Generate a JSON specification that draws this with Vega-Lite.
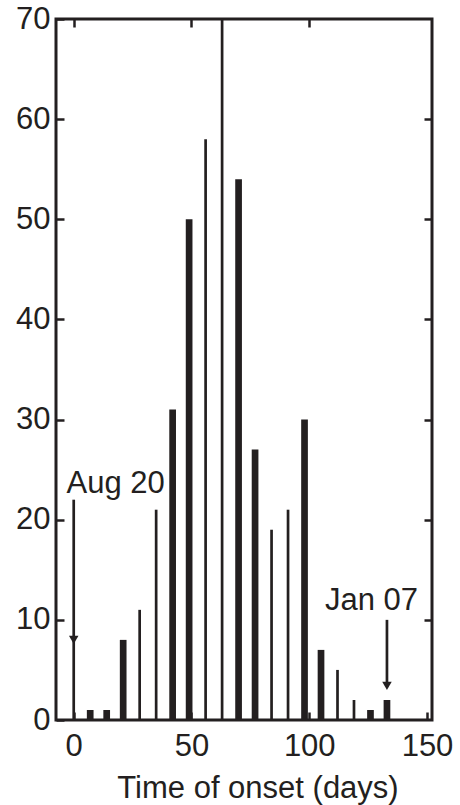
{
  "$schema": "https://vega.github.io/schema/vega-lite/v6.json",
  "width": 376,
  "height": 701,
  "autosize": "none",
  "padding": {"left": 56, "top": 19, "right": 28, "bottom": 85},
  "background": "white",
  "config": {
    "view": {"stroke": "#231f20", "strokeWidth": 3},
    "font": "Liberation Sans",
    "axis": {
      "grid": false,
      "domain": false,
      "tickColor": "#231f20",
      "tickWidth": 2.5,
      "labelColor": "#231f20",
      "labelFont": "Liberation Sans",
      "labelFontSize": 31,
      "titleFont": "Liberation Sans",
      "titleFontSize": 31,
      "titleFontWeight": "normal",
      "titleColor": "#231f20"
    }
  },
  "datasets": {
    "onsets": [
      {"day": 7, "cases": 1, "group": "wide"},
      {"day": 14, "cases": 1, "group": "wide"},
      {"day": 21, "cases": 8, "group": "wide"},
      {"day": 28, "cases": 11, "group": "narrow"},
      {"day": 35, "cases": 21, "group": "narrow"},
      {"day": 42, "cases": 31, "group": "wide"},
      {"day": 49, "cases": 50, "group": "wide"},
      {"day": 56, "cases": 58, "group": "narrow"},
      {"day": 63, "cases": 70, "group": "narrow"},
      {"day": 70, "cases": 54, "group": "wide"},
      {"day": 77, "cases": 27, "group": "wide"},
      {"day": 84, "cases": 19, "group": "narrow"},
      {"day": 91, "cases": 21, "group": "narrow"},
      {"day": 98, "cases": 30, "group": "wide"},
      {"day": 105, "cases": 7, "group": "wide"},
      {"day": 112, "cases": 5, "group": "narrow"},
      {"day": 119, "cases": 2, "group": "narrow"},
      {"day": 126, "cases": 1, "group": "wide"},
      {"day": 133, "cases": 2, "group": "wide"}
    ],
    "arrows": [
      {"day": 0, "from": 0, "to": 22, "head": 8.0},
      {"day": 133, "from": 3.5, "to": 10, "head": 3.4}
    ],
    "notes": [
      {"day": 17.8, "cases": 22.7, "text": "Aug 20"},
      {"day": 126.4, "cases": 11, "text": "Jan 07"}
    ]
  },
  "layer": [
    {
      "data": {"name": "onsets"},
      "mark": {"type": "bar", "color": "#231f20"},
      "encoding": {
        "x": {
          "field": "day", "type": "quantitative",
          "scale": {"domain": [-5.4, 150], "nice": false, "zero": false},
          "axis": {"orient": "bottom", "values": [0, 50, 100, 150], "tickSize": -8, "labelPadding": 19, "title": "Time of onset (days)", "titleX": 201.5, "titlePadding": 12}
        },
        "y": {
          "field": "cases", "type": "quantitative",
          "scale": {"domain": [0, 70], "nice": false},
          "axis": {"orient": "left", "values": [0, 10, 20, 30, 40, 50, 60, 70], "tickSize": -8, "labelPadding": 14, "title": null}
        },
        "size": {"field": "group", "type": "nominal", "scale": {"domain": ["wide", "narrow"], "range": [6.7, 2.7]}, "legend": null}
      }
    },
    {
      "data": {"name": "onsets"},
      "mark": {"type": "point", "opacity": 0},
      "encoding": {
        "x": {"field": "day", "type": "quantitative", "axis": {"orient": "top", "values": [0, 50, 100], "tickSize": -8, "labels": false, "title": null}},
        "y": {"field": "cases", "type": "quantitative", "axis": {"orient": "right", "values": [10, 20, 30, 40, 50, 60], "tickSize": -8, "labels": false, "title": null}}
      }
    },
    {
      "data": {"name": "arrows"},
      "mark": {"type": "rule", "color": "#231f20", "strokeWidth": 2.7},
      "encoding": {
        "x": {"field": "day", "type": "quantitative", "axis": null},
        "y": {"field": "from", "type": "quantitative", "axis": null},
        "y2": {"field": "to"}
      }
    },
    {
      "data": {"name": "arrows"},
      "mark": {"type": "point", "shape": "triangle-down", "filled": true, "color": "#231f20", "size": 90, "opacity": 1},
      "encoding": {
        "x": {"field": "day", "type": "quantitative", "axis": null},
        "y": {"field": "head", "type": "quantitative", "axis": null}
      }
    },
    {
      "data": {"name": "notes"},
      "mark": {"type": "text", "fontSize": 31, "font": "Liberation Sans", "color": "#231f20", "baseline": "alphabetic", "align": "center"},
      "encoding": {
        "x": {"field": "day", "type": "quantitative", "axis": null},
        "y": {"field": "cases", "type": "quantitative", "axis": null},
        "text": {"field": "text"}
      }
    }
  ],
  "resolve": {"axis": {"x": "independent", "y": "independent"}}
}
